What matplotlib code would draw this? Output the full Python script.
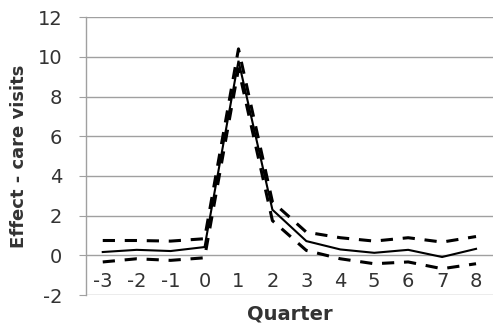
import numpy as np
import matplotlib.pyplot as plt

plt.rcParams['axes.unicode_minus'] = False

# Quarter relative to event, estimated effect and confidence bounds
quarters = [-3, -2, -1, 0, 1, 2, 3, 4, 5, 6, 7, 8]
effect = [0.17, 0.28, 0.22, 0.42, 9.8, 2.3, 0.72, 0.3, 0.13, 0.28, -0.08, 0.33]
upper = [0.75, 0.75, 0.72, 0.84, 10.4, 2.7, 1.17, 0.89, 0.72, 0.89, 0.67, 0.95]
lower = [-0.33, -0.17, -0.25, -0.12, 9.4, 1.75, 0.25, -0.17, -0.42, -0.33, -0.67, -0.42]

fig = plt.figure(figsize=(4.93, 3.29), dpi=100)
ax = fig.add_axes([0.174, 0.103, 0.826, 0.845])

x = np.arange(len(quarters))
ax.plot(x, effect, color='black', lw=1.5, solid_joinstyle='miter')
for ci in (upper, lower):
    ax.plot(x, ci, color='black', lw=2.2, dashes=(4.0, 3.2))

ax.set_xlim(-0.5, len(quarters) - 0.5)
ax.set_ylim(-2, 12)
ax.set_yticks(range(-2, 13, 2))
ax.set_xticks(x)
ax.set_xticklabels([str(q) for q in quarters])

ax.grid(axis='y', color='#a0a0a0', lw=1.0)
ax.set_axisbelow(True)
for s in ('top', 'right'):
    ax.spines[s].set_visible(False)
# x axis crosses at zero, labels sit just below it
ax.spines['bottom'].set_position(('data', 0))
ax.spines['bottom'].set_visible(False)
ax.spines['left'].set_color('#a0a0a0')
ax.spines['left'].set_linewidth(1.0)

txt = '#333333'
ax.tick_params(axis='y', length=5, color='#a0a0a0', labelsize=14,
               labelcolor=txt, pad=12)
ax.tick_params(axis='x', length=0, labelsize=14, labelcolor=txt, pad=12)

ax.set_xlabel('Quarter', fontsize=14, fontweight='bold', color=txt)
ax.xaxis.set_label_coords(0.5, -0.035)
ax.set_ylabel('Effect - care visits', fontsize=13, fontweight='bold', color=txt,
              labelpad=7)

fig.savefig('out.png', dpi=100)
